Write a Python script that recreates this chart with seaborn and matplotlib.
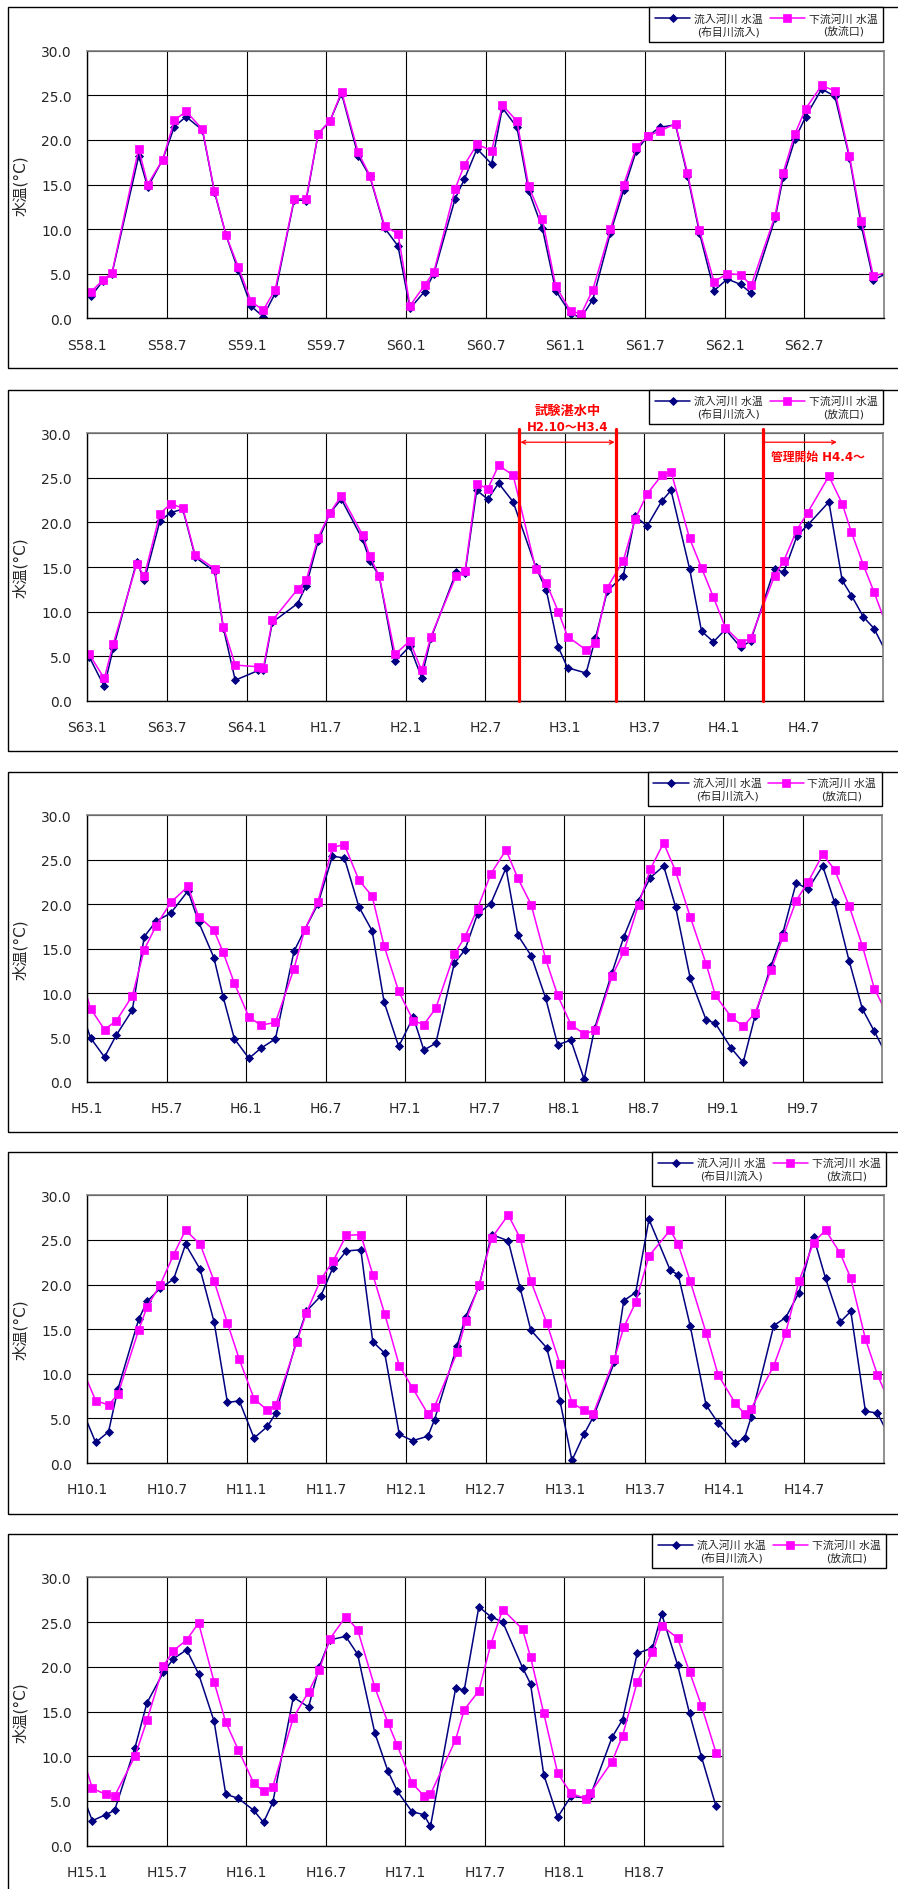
import numpy as np
import pandas as pd
import matplotlib
matplotlib.use("Agg")
import matplotlib.pyplot as plt
import seaborn as sns
from matplotlib.lines import Line2D
from matplotlib.patches import Rectangle
from matplotlib.legend_handler import HandlerLine2D
from matplotlib.ticker import FormatStrFormatter

# ---------------- data (x = months from first tick of each panel) ----------------
p1_x = [0.3, 1.18, 1.86, 3.87, 4.55, 5.68, 6.56, 7.44, 8.67, 9.57, 10.45, 11.36, 12.34, 13.24, 14.15,
        15.58, 16.48, 17.39, 18.27, 19.15, 20.4, 21.28, 22.4, 23.4, 24.3, 25.4, 26.1, 27.7, 28.4, 29.35,
        30.45, 31.26, 32.36, 33.24, 34.27, 35.28, 36.4, 37.2, 38.07, 39.4, 40.4, 41.35, 42.2, 43.1, 44.3,
        45.2, 46.1, 47.2, 48.2, 49.2, 50.0, 51.8, 52.4, 53.3, 54.1, 55.3, 56.3, 57.4, 58.3, 59.2, 60.7]
p1_inflow = [2.5, 4.2, 5.0, 18.2, 14.7, 17.8, 21.5, 22.6, 21.1, 14.2, 9.3, 5.4, 1.35, 0.2, 2.8, 13.3,
             13.2, 20.7, 22.1, 25.2, 18.2, 15.9, 10.1, 8.1, 1.1, 3.0, 5.0, 13.4, 15.6, 19.0, 17.3, 23.6,
             21.4, 14.3, 10.1, 3.1, 0.5, 0.1, 2.1, 9.6, 14.4, 18.8, 20.4, 21.4, 21.7, 16.0, 9.6, 3.1, 4.4,
             3.8, 2.8, 11.2, 15.8, 20.1, 22.6, 25.7, 24.9, 18.0, 10.3, 4.3, 5.4]
p1_outflow = [3.0, 4.3, 5.1, 19.0, 15.0, 17.8, 22.2, 23.2, 21.2, 14.3, 9.3, 5.8, 1.9, 0.9, 3.2, 13.4,
              13.4, 20.7, 22.1, 25.4, 18.6, 16.0, 10.3, 9.5, 1.4, 3.7, 5.2, 14.5, 17.2, 19.5, 18.8, 23.9,
              22.1, 14.8, 11.1, 3.6, 0.8, 0.5, 3.2, 10.0, 15.0, 19.2, 20.4, 21.0, 21.8, 16.3, 9.9, 4.1, 5.0,
              4.9, 3.7, 11.5, 16.3, 20.7, 23.5, 26.1, 25.5, 18.2, 10.9, 4.7, 5.4]
p1_labels = ["S58.1", "S58.7", "S59.1", "S59.7", "S60.1", "S60.7", "S61.1", "S61.7", "S62.1", "S62.7"]

p2_x = [-0.4, 0.15, 1.28, 1.96, 3.72, 4.3, 5.48, 6.3, 7.2, 8.14, 9.6, 10.25, 11.15, 12.9, 13.27, 13.95,
        15.85, 16.5, 17.4, 18.3, 19.15, 20.75, 21.3, 22.0, 23.2, 24.3, 25.2, 25.9, 27.8, 28.47, 29.35,
        30.2, 31.0, 32.1, 33.8, 34.6, 35.5, 36.2, 37.6, 38.3, 39.2, 40.4, 41.3, 42.2, 43.3, 44.0, 45.4,
        46.3, 47.2, 48.1, 49.25, 50.0, 51.8, 52.5, 53.5, 54.3, 55.9, 56.9, 57.6, 58.5, 59.3, 60.6]
p2_inflow = [4.4, 4.9, 1.6, 5.9, 15.6, 13.5, 20.2, 21.1, 21.5, 16.1, 14.5, 8.2, 2.3, 3.4, 3.4, 8.8, 10.9,
             12.9, 17.9, 21.1, 22.6, 18.1, 15.7, 14.0, 4.4, 6.1, 2.6, 7.0, 14.4, 14.3, 23.6, 22.6, 24.4,
             22.3, 15.0, 12.4, 6.0, 3.7, 3.1, 7.0, 12.3, 14.0, 20.7, 19.6, 22.4, 23.6, 14.8, 7.8, 6.6, 8.0,
             6.0, 6.7, 14.8, 14.4, 18.5, 19.7, 22.3, 13.5, 11.8, 9.4, 8.1, 4.3]
p2_outflow = [4.4, 5.2, 2.5, 6.4, 15.3, 14.0, 21.0, 22.1, 21.6, 16.3, 14.8, 8.3, 4.0, 3.8, 3.7, 9.0, 12.5,
              13.5, 18.3, 21.1, 23.0, 18.6, 16.2, 14.0, 5.2, 6.7, 3.4, 7.2, 14.0, 14.5, 24.3, 23.8, 26.4,
              25.3, 14.8, 13.2, 10.0, 7.2, 5.7, 6.5, 12.7, 15.7, 20.4, 23.2, 25.3, 25.7, 18.2, 14.9, 11.6,
              8.2, 6.5, 7.0, 14.0, 15.7, 19.2, 21.1, 25.2, 22.1, 18.9, 15.2, 12.2, 7.0]
p2_labels = ["S63.1", "S63.7", "S64.1", "H1.7", "H2.1", "H2.7", "H3.1", "H3.7", "H4.1", "H4.7"]
p2_test_period = [32.55, 39.85]      # 試験湛水中 H2.10～H3.4
p2_mgmt_start = 50.9                 # 管理開始 H4.4～
p2_mgmt_arrow_end = 56.5

p3_x = [-0.4, 0.25, 1.3, 2.2, 3.4, 4.3, 5.2, 6.3, 7.6, 8.4, 9.55, 10.25, 11.1, 12.2, 13.1, 14.2, 15.6,
        16.4, 17.4, 18.5, 19.4, 20.5, 21.5, 22.4, 23.5, 24.6, 25.4, 26.3, 27.7, 28.5, 29.45, 30.45, 31.6,
        32.5, 33.5, 34.6, 35.5, 36.5, 37.5, 38.3, 39.6, 40.5, 41.6, 42.5, 43.5, 44.4, 45.5, 46.7, 47.4,
        48.6, 49.5, 50.4, 51.6, 52.5, 53.5, 54.4, 55.5, 56.4, 57.5, 58.5, 59.4, 60.6]
p3_inflow = [7.8, 4.95, 2.8, 5.3, 8.1, 16.35, 18.1, 19.0, 21.5, 18.0, 14.0, 9.6, 4.85, 2.66, 3.8, 4.85,
             14.7, 17.1, 20.0, 25.4, 25.2, 19.7, 17.0, 9.0, 4.0, 7.3, 3.6, 4.35, 13.35, 14.85, 18.9, 20.06,
             24.07, 16.5, 14.2, 9.4, 4.2, 4.7, 0.3, 6.1, 12.3, 16.35, 20.4, 23.0, 24.3, 19.7, 11.7, 7.0,
             6.6, 3.8, 2.2, 7.46, 13.05, 16.8, 22.4, 21.7, 24.3, 20.2, 13.6, 8.2, 5.7, 2.2]
p3_outflow = [11.5, 8.25, 5.9, 6.9, 9.7, 14.9, 17.6, 20.2, 22.0, 18.6, 17.1, 14.6, 11.1, 7.3, 6.4, 6.7,
              12.75, 17.1, 20.25, 26.4, 26.7, 22.7, 20.9, 15.3, 10.2, 6.9, 6.45, 8.3, 14.4, 16.3, 19.5,
              23.4, 26.1, 22.9, 19.95, 13.8, 9.75, 6.45, 5.4, 5.8, 11.9, 14.7, 19.95, 23.96, 26.9, 23.7,
              18.6, 13.3, 9.75, 7.3, 6.26, 7.76, 12.6, 16.3, 20.4, 22.5, 25.6, 23.9, 19.8, 15.3, 10.5, 6.9]
p3_labels = ["H5.1", "H5.7", "H6.1", "H6.7", "H7.1", "H7.7", "H8.1", "H8.7", "H9.1", "H9.7"]

p4_x = [-0.4, 0.63, 1.6, 2.3, 3.87, 4.5, 5.5, 6.5, 7.4, 8.5, 9.55, 10.55, 11.45, 12.56, 13.57, 14.2, 15.8,
        16.5, 17.6, 18.5, 19.5, 20.6, 21.5, 22.4, 23.5, 24.5, 25.65, 26.15, 27.85, 28.5, 29.5, 30.45,
        31.7, 32.6, 33.4, 34.6, 35.6, 36.5, 37.4, 38.1, 39.7, 40.4, 41.3, 42.3, 43.9, 44.5, 45.4, 46.6,
        47.5, 48.8, 49.5, 50.0, 51.7, 52.6, 53.6, 54.7, 55.6, 56.7, 57.5, 58.6, 59.5, 60.7]
p4_inflow = [6.0, 2.3, 3.5, 8.25, 16.1, 18.1, 19.6, 20.6, 24.5, 21.7, 15.8, 6.8, 6.95, 2.8, 4.1, 5.6, 13.9,
             17.0, 18.75, 21.9, 23.76, 23.9, 13.6, 12.3, 3.2, 2.5, 3.0, 4.86, 13.15, 16.4, 19.8, 25.6,
             24.9, 19.6, 14.9, 12.9, 6.95, 0.3, 3.2, 5.15, 11.3, 18.2, 19.1, 27.3, 21.6, 21.1, 15.4, 6.5,
             4.5, 2.2, 2.8, 5.15, 15.4, 16.3, 19.1, 25.3, 20.7, 15.8, 17.0, 5.8, 5.6, 2.1]
p4_outflow = [10.6, 7.0, 6.5, 7.7, 14.9, 17.5, 20.0, 23.35, 26.1, 24.5, 20.4, 15.7, 11.6, 7.2, 5.9, 6.5,
              13.6, 16.85, 20.6, 22.6, 25.5, 25.6, 21.1, 16.7, 10.9, 8.4, 5.5, 6.3, 12.4, 15.9, 19.9, 25.2,
              27.8, 25.2, 20.4, 15.7, 11.06, 6.76, 5.9, 5.5, 11.7, 15.2, 18.0, 23.2, 26.1, 24.5, 20.4,
              14.6, 9.9, 6.7, 5.5, 6.1, 10.9, 14.6, 20.4, 24.7, 26.1, 23.5, 20.7, 13.9, 9.9, 5.8]
p4_labels = ["H10.1", "H10.7", "H11.1", "H11.7", "H12.1", "H12.7", "H13.1", "H13.7", "H14.1", "H14.7"]

p5_x = [-0.4, 0.38, 1.4, 2.06, 3.6, 4.5, 5.75, 6.5, 7.5, 8.4, 9.57, 10.45, 11.4, 12.56, 13.3, 14.0, 15.55,
        16.7, 17.5, 18.3, 19.5, 20.4, 21.7, 22.7, 23.4, 24.5, 25.4, 25.9, 27.8, 28.45, 29.55, 30.45,
        31.35, 32.85, 33.45, 34.45, 35.5, 36.5, 37.65, 37.95, 39.6, 40.4, 41.5, 42.65, 43.35, 44.55,
        45.45, 46.35, 47.45]
p5_inflow = [5.8, 2.8, 3.47, 3.95, 10.96, 15.95, 19.4, 20.9, 21.9, 19.2, 13.9, 5.74, 5.3, 3.95, 2.6, 4.85,
             16.6, 15.5, 20.0, 23.0, 23.4, 21.4, 12.6, 8.3, 6.1, 3.8, 3.47, 2.16, 17.6, 17.4, 26.7, 25.6,
             25.0, 19.9, 18.1, 7.94, 3.2, 5.5, 5.33, 5.5, 12.1, 14.1, 21.5, 22.1, 25.9, 20.2, 14.8, 9.95, 4.4]
p5_outflow = [10.2, 6.4, 5.74, 5.55, 10.0, 14.0, 20.1, 21.8, 23.0, 24.9, 18.3, 13.8, 10.7, 7.0, 6.07, 6.6,
              14.3, 17.2, 19.6, 23.1, 25.6, 24.15, 17.7, 13.7, 11.2, 7.0, 5.6, 5.74, 11.85, 15.2, 17.3,
              22.5, 26.4, 24.2, 21.1, 14.8, 8.1, 5.85, 5.25, 5.85, 9.4, 12.3, 18.3, 21.6, 24.6, 23.2,
              19.45, 15.65, 10.4]
p5_labels = ["H15.1", "H15.7", "H16.1", "H16.7", "H17.1", "H17.7", "H18.1", "H18.7"]

inflow_label = "流入河川 水温\n(布目川流入)"
outflow_label = "下流河川 水温\n(放流口)"
y_label = "水温(°C)"

# ---------------- styling ----------------
sns.set_style("white")
plt.rcParams["font.family"] = ["DejaVu Sans", "Noto Sans CJK JP"]

NAVY = "#000080"
MAGENTA = "#FF00FF"
W, H = 898, 1890
fig = plt.figure(figsize=(W / 100, H / 100), dpi=100)


def fx(px):
    return px / W


def fy(py):
    return 1 - py / H


class RaisedHandler(HandlerLine2D):
    def create_artists(self, legend, orig_handle, xdescent, ydescent, width, height, fontsize, trans):
        arts = super().create_artists(legend, orig_handle, xdescent, ydescent, width, height, fontsize, trans)
        for a in arts:
            a.set_ydata(np.asarray(a.get_ydata(), dtype=float) + 0.6 * fontsize)
        return arts


panels = [
    (p1_x, p1_inflow, p1_outflow, p1_labels, 60),
    (p2_x, p2_inflow, p2_outflow, p2_labels, 60),
    (p3_x, p3_inflow, p3_outflow, p3_labels, 60),
    (p4_x, p4_inflow, p4_outflow, p4_labels, 60),
    (p5_x, p5_inflow, p5_outflow, p5_labels, 48),
]
axes_px = [(87.3, 51.7, 884.0, 319.3), (87.3, 434.3, 883.3, 701.7), (87.3, 816.3, 882.3, 1083.0),
           (87.3, 1196.3, 884.0, 1464.0), (87.3, 1578.3, 723.3, 1846.7)]
border_px = [(8.3, 8.3, 369.0), (8.3, 391.0, 752.0), (8.3, 773.0, 1133.0), (8.3, 1153.0, 1515.0),
             (8.3, 1535.0, 1900.0)]
legend_px = [(649.3, 8.3), (649.3, 391.0), (647.7, 773.0), (652.3, 1153.0), (652.3, 1535.0)]

for i, (xs, yin, yout, labels, span) in enumerate(panels):
    bx, by0, by1 = border_px[i]
    fig.add_artist(Rectangle((fx(bx), fy(by1)), fx(905) - fx(bx), fy(by0) - fy(by1),
                             transform=fig.transFigure, fill=False, ec="black", lw=1.0))
    l, t, r, b = axes_px[i]
    ax = fig.add_axes([fx(l), fy(b), fx(r) - fx(l), fy(t) - fy(b)])

    df = pd.DataFrame({"month": xs, "inflow": yin, "outflow": yout})
    sns.lineplot(data=df, x="month", y="inflow", ax=ax, estimator=None, sort=False, color=NAVY,
                 linewidth=1.1, marker="D", markersize=4.4, markeredgecolor=NAVY,
                 markeredgewidth=0.6, markerfacecolor=NAVY, legend=False)
    h_in = ax.lines[-1]
    sns.lineplot(data=df, x="month", y="outflow", ax=ax, estimator=None, sort=False, color=MAGENTA,
                 linewidth=1.1, marker="s", markersize=5.7, markeredgecolor=MAGENTA,
                 markeredgewidth=0.5, markerfacecolor=MAGENTA, legend=False)
    h_out = ax.lines[-1]

    ax.set_xlim(0, span)
    ax.set_ylim(0, 30)
    ax.set_xticks(np.arange(0, span + 1, 6))
    ax.set_xticklabels(labels + [""])
    ax.set_yticks(np.arange(0, 31, 5))
    ax.yaxis.set_major_formatter(FormatStrFormatter("%.1f"))
    ax.grid(True, color="black", linewidth=0.8)
    ax.set_axisbelow(True)
    ax.set_xlabel("")
    ax.set_ylabel(y_label, fontsize=11, va="center")
    ax.yaxis.set_label_coords((20 - l) / (r - l), 0.5)
    ax.tick_params(axis="both", direction="out", length=3, width=0.8, color="black", labelsize=10)
    ax.tick_params(axis="y", pad=8)
    ax.tick_params(axis="x", pad=11)
    for s in ["left", "bottom"]:
        ax.spines[s].set_color("black")
        ax.spines[s].set_linewidth(1.0)
    for s in ["top", "right"]:
        ax.spines[s].set_color("#808080")
        ax.spines[s].set_linewidth(1.2)

    lx, ly = legend_px[i]
    leg = fig.legend([h_in, h_out], [inflow_label, outflow_label], loc="upper left",
                     bbox_to_anchor=(fx(lx), fy(ly)), ncol=2, fontsize=7.8, frameon=True,
                     fancybox=False, edgecolor="black", framealpha=1, borderpad=0.5,
                     handlelength=3.3, handletextpad=0.35, columnspacing=0.6, borderaxespad=0,
                     handler_map={Line2D: RaisedHandler()})
    leg.get_frame().set_linewidth(1.0)
    for txt in leg.get_texts():
        txt.set_multialignment("center")

    if i == 1:
        for xv in p2_test_period + [p2_mgmt_start]:
            ax.plot([xv, xv], [0, 30.5], color="red", linewidth=2.3, clip_on=False, zorder=5)
        ax.annotate("", xy=(p2_test_period[1] - 0.1, 29.0), xytext=(p2_test_period[0] + 0.1, 29.0),
                    arrowprops=dict(arrowstyle="<->", color="red", lw=0.9, shrinkA=0, shrinkB=0,
                                    mutation_scale=7), zorder=6)
        ax.annotate("", xy=(p2_mgmt_arrow_end, 29.0), xytext=(p2_mgmt_start + 0.1, 29.0),
                    arrowprops=dict(arrowstyle="->", color="red", lw=0.9, shrinkA=0, shrinkB=0,
                                    mutation_scale=7), zorder=6)
        mid = (p2_test_period[0] + p2_test_period[1]) / 2
        ax.text(mid, 32.6, "試験湛水中", color="red", fontsize=9.5, fontweight="bold",
                ha="center", va="center", clip_on=False)
        ax.text(mid, 30.75, "H2.10～H3.4", color="red", fontsize=8.5, fontweight="bold",
                ha="center", va="center", clip_on=False)
        ax.text(55.1, 27.4, "管理開始 H4.4～", color="red", fontsize=8.5, fontweight="bold",
                ha="center", va="center", clip_on=False)

fig.savefig("out.png", dpi=100, facecolor="white")
